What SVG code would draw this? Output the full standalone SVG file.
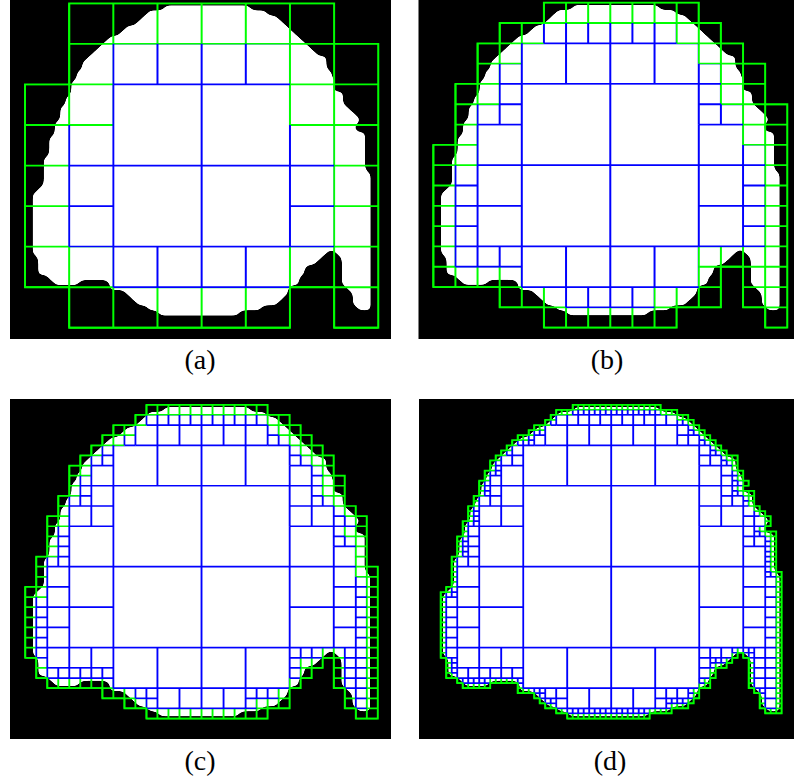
<svg xmlns="http://www.w3.org/2000/svg" xmlns:xlink="http://www.w3.org/1999/xlink" width="794" height="782" viewBox="0 0 794 782">
<style>
.bg{fill:#000}
.shape{fill:#fff;stroke:none}
.gl{fill:none;stroke:#00ff00}
.bl{fill:none;stroke:#0000ff}
.lbl{font-family:"Liberation Serif","Times New Roman",serif;font-size:28px;fill:#000;text-anchor:middle}
</style>
<defs>
<filter id="sm" x="-5%" y="-5%" width="110%" height="110%">
<feGaussianBlur stdDeviation="0.6"/>
<feComponentTransfer><feFuncA type="linear" slope="16" intercept="-11.5"/></feComponentTransfer>
</filter>
<path id="G1" d="M25 0H41V1H44V2H46V3H47V4H48V5H49V6H50V7H51V8H52V9H53V10H55V13H56V15H57V16H56V17H58V20H59V21H60V22H61V24H60V25H62V33H63V61H60V60H59V57H58V56H57V50H56V49H55V50H54V51H53V52H51V54H50V56H48V58H47V59H46V60H43V61H39V62H24V61H22V60H20V59H19V58H18V57H15V55H10V56H5V55H4V54H2V50H1V37H2V36H3V30H4V26H5V23H6V20H7V18H8V15H9V13H10V11H11V10H12V9H13V8H14V7H15V6H17V5H18V4H20V3H21V2H22V1H25Z"/>
<path id="R1" d="M25 1H41V2H44V3H46V4H47V5H48V6H49V7H50V8H51V9H52V10H53V11H54V13H55V15H56V16H55V17H56V18H57V20H58V21H59V22H60V24H59V25H60V26H61V33H62V60H60V57H59V56H58V50H57V49H56V48H55V49H54V50H53V51H51V52H50V54H49V55H48V56H47V58H46V59H43V60H39V61H24V60H22V59H20V58H19V57H18V56H16V55H15V54H10V55H5V54H4V53H3V50H2V37H3V36H4V30H5V26H6V23H7V20H8V18H9V15H10V13H11V11H12V10H13V9H14V8H15V7H17V6H18V5H20V4H21V3H22V2H25Z"/>
<path id="G2" d="M22 0H44V2H48V4H50V6H52V8H54V10H56V14H58V20H60V22H62V32H64V62H60V60H58V56H56V50H54V52H52V54H50V56H48V60H44V62H22V60H18V58H14V56H4V54H2V50H0V36H2V30H4V22H6V18H8V12H10V10H12V8H14V6H16V4H20V2H22Z"/>
<path id="R2" d="M22 2H44V4H46V6H48V8H50V10H52V12H54V18H56V20H58V22H60V24H58V26H60V34H62V60H60V56H58V48H54V50H50V54H48V56H46V58H42V60H22V58H20V56H16V54H4V50H2V38H4V30H6V24H8V18H10V14H12V10H14V8H18V6H20V4H22Z"/>
<path id="G4" d="M20 0H48V4H52V8H56V12H60V20H64V64H60V60H56V52H52V60H44V64H20V60H12V56H0V28H4V16H8V8H12V4H20Z"/>
<path id="R4" d="M20 4H44V8H48V12H52V20H56V28H60V48H48V56H40V60H24V56H16V52H4V32H8V20H12V12H16V8H20Z"/>
<path id="G8" d="M8 0H56V8H64V64H56V56H48V64H8V56H0V16H8Z"/>
<path id="R8" d="M16 8H48V24H56V48H48V56H16V48H8V24H16Z"/>
<path id="R16" d="M16 16H48V48H16Z"/>
<path id="v1" d="M0 0V64M1 0V64M2 0V64M3 0V64M4 0V64M5 0V64M6 0V64M7 0V64M8 0V64M9 0V64M10 0V64M11 0V64M12 0V64M13 0V64M14 0V64M15 0V64M16 0V64M17 0V64M18 0V64M19 0V64M20 0V64M21 0V64M22 0V64M23 0V64M24 0V64M25 0V64M26 0V64M27 0V64M28 0V64M29 0V64M30 0V64M31 0V64M32 0V64M33 0V64M34 0V64M35 0V64M36 0V64M37 0V64M38 0V64M39 0V64M40 0V64M41 0V64M42 0V64M43 0V64M44 0V64M45 0V64M46 0V64M47 0V64M48 0V64M49 0V64M50 0V64M51 0V64M52 0V64M53 0V64M54 0V64M55 0V64M56 0V64M57 0V64M58 0V64M59 0V64M60 0V64M61 0V64M62 0V64M63 0V64M64 0V64"/>
<path id="h1" d="M0 0H64M0 1H64M0 2H64M0 3H64M0 4H64M0 5H64M0 6H64M0 7H64M0 8H64M0 9H64M0 10H64M0 11H64M0 12H64M0 13H64M0 14H64M0 15H64M0 16H64M0 17H64M0 18H64M0 19H64M0 20H64M0 21H64M0 22H64M0 23H64M0 24H64M0 25H64M0 26H64M0 27H64M0 28H64M0 29H64M0 30H64M0 31H64M0 32H64M0 33H64M0 34H64M0 35H64M0 36H64M0 37H64M0 38H64M0 39H64M0 40H64M0 41H64M0 42H64M0 43H64M0 44H64M0 45H64M0 46H64M0 47H64M0 48H64M0 49H64M0 50H64M0 51H64M0 52H64M0 53H64M0 54H64M0 55H64M0 56H64M0 57H64M0 58H64M0 59H64M0 60H64M0 61H64M0 62H64M0 63H64M0 64H64"/>
<path id="v2" d="M0 0V64M2 0V64M4 0V64M6 0V64M8 0V64M10 0V64M12 0V64M14 0V64M16 0V64M18 0V64M20 0V64M22 0V64M24 0V64M26 0V64M28 0V64M30 0V64M32 0V64M34 0V64M36 0V64M38 0V64M40 0V64M42 0V64M44 0V64M46 0V64M48 0V64M50 0V64M52 0V64M54 0V64M56 0V64M58 0V64M60 0V64M62 0V64M64 0V64"/>
<path id="h2" d="M0 0H64M0 2H64M0 4H64M0 6H64M0 8H64M0 10H64M0 12H64M0 14H64M0 16H64M0 18H64M0 20H64M0 22H64M0 24H64M0 26H64M0 28H64M0 30H64M0 32H64M0 34H64M0 36H64M0 38H64M0 40H64M0 42H64M0 44H64M0 46H64M0 48H64M0 50H64M0 52H64M0 54H64M0 56H64M0 58H64M0 60H64M0 62H64M0 64H64"/>
<path id="v4" d="M0 0V64M4 0V64M8 0V64M12 0V64M16 0V64M20 0V64M24 0V64M28 0V64M32 0V64M36 0V64M40 0V64M44 0V64M48 0V64M52 0V64M56 0V64M60 0V64M64 0V64"/>
<path id="h4" d="M0 0H64M0 4H64M0 8H64M0 12H64M0 16H64M0 20H64M0 24H64M0 28H64M0 32H64M0 36H64M0 40H64M0 44H64M0 48H64M0 52H64M0 56H64M0 60H64M0 64H64"/>
<path id="v8" d="M0 0V64M8 0V64M16 0V64M24 0V64M32 0V64M40 0V64M48 0V64M56 0V64M64 0V64"/>
<path id="h8" d="M0 0H64M0 8H64M0 16H64M0 24H64M0 32H64M0 40H64M0 48H64M0 56H64M0 64H64"/>
<path id="v16" d="M0 0V64M16 0V64M32 0V64M48 0V64M64 0V64"/>
<path id="h16" d="M0 0H64M0 16H64M0 32H64M0 48H64M0 64H64"/>
<mask id="hG1"><g transform="translate(0,0.18)"><use href="#G1" fill="#fff"/><use href="#R1" fill="#000"/></g></mask>
<mask id="vG1"><g transform="translate(-0.18,0)"><use href="#G1" fill="#fff"/><use href="#R1" fill="#000"/></g></mask>
<mask id="hR1"><g transform="translate(0,0.18)"><use href="#R1" fill="#fff"/><use href="#R2" fill="#000"/></g></mask>
<mask id="vR1"><g transform="translate(-0.18,0)"><use href="#R1" fill="#fff"/><use href="#R2" fill="#000"/></g></mask>
<mask id="hG2"><g transform="translate(0,0.18)"><use href="#G2" fill="#fff"/><use href="#R2" fill="#000"/></g></mask>
<mask id="vG2"><g transform="translate(-0.18,0)"><use href="#G2" fill="#fff"/><use href="#R2" fill="#000"/></g></mask>
<mask id="hR2"><g transform="translate(0,0.18)"><use href="#R2" fill="#fff"/><use href="#R4" fill="#000"/></g></mask>
<mask id="vR2"><g transform="translate(-0.18,0)"><use href="#R2" fill="#fff"/><use href="#R4" fill="#000"/></g></mask>
<mask id="hG4"><g transform="translate(0,0.18)"><use href="#G4" fill="#fff"/><use href="#R4" fill="#000"/></g></mask>
<mask id="vG4"><g transform="translate(-0.18,0)"><use href="#G4" fill="#fff"/><use href="#R4" fill="#000"/></g></mask>
<mask id="hR4"><g transform="translate(0,0.18)"><use href="#R4" fill="#fff"/><use href="#R8" fill="#000"/></g></mask>
<mask id="vR4"><g transform="translate(-0.18,0)"><use href="#R4" fill="#fff"/><use href="#R8" fill="#000"/></g></mask>
<mask id="hG8"><g transform="translate(0,0.18)"><use href="#G8" fill="#fff"/><use href="#R8" fill="#000"/></g></mask>
<mask id="vG8"><g transform="translate(-0.18,0)"><use href="#G8" fill="#fff"/><use href="#R8" fill="#000"/></g></mask>
<mask id="hR8"><g transform="translate(0,0.18)"><use href="#R8" fill="#fff"/><use href="#R16" fill="#000"/></g></mask>
<mask id="vR8"><g transform="translate(-0.18,0)"><use href="#R8" fill="#fff"/><use href="#R16" fill="#000"/></g></mask>
<mask id="hR16"><g transform="translate(0,0.18)"><use href="#R16" fill="#fff"/></g></mask>
<mask id="vR16"><g transform="translate(-0.18,0)"><use href="#R16" fill="#fff"/></g></mask>
</defs>
<rect width="794" height="782" fill="#fff"/>

<g id="panel-a">
<rect class="bg" x="10" y="0" width="381" height="339"/>
<g transform="translate(25,3.3) scale(5.52,5.07)" stroke-width="0.36">
<use href="#G1" class="shape" filter="url(#sm)"/>
<use href="#h8" class="gl" mask="url(#hG8)"/><use href="#v8" class="gl" mask="url(#vG8)"/>
<use href="#h8" class="bl" mask="url(#hR8)"/><use href="#v8" class="bl" mask="url(#vR8)"/>
<use href="#h16" class="bl" mask="url(#hR16)"/><use href="#v16" class="bl" mask="url(#vR16)"/>
<use href="#G8" class="gl"/>
</g>
</g>

<g id="panel-b">
<rect class="bg" x="418.5" y="0" width="375.5" height="339"/>
<g transform="translate(433.3,2.7) scale(5.531,5.078)" stroke-width="0.36">
<use href="#G1" class="shape" filter="url(#sm)"/>
<use href="#h4" class="gl" mask="url(#hG4)"/><use href="#v4" class="gl" mask="url(#vG4)"/>
<use href="#h4" class="bl" mask="url(#hR4)"/><use href="#v4" class="bl" mask="url(#vR4)"/>
<use href="#h8" class="bl" mask="url(#hR8)"/><use href="#v8" class="bl" mask="url(#vR8)"/>
<use href="#h16" class="bl" mask="url(#hR16)"/><use href="#v16" class="bl" mask="url(#vR16)"/>
<use href="#G4" class="gl"/>
</g>
</g>

<g id="panel-c">
<rect class="bg" x="10" y="399" width="381" height="340"/>
<g transform="translate(25.2,404.8) scale(5.51,5.06)" stroke-width="0.34">
<use href="#G1" class="shape" filter="url(#sm)"/>
<use href="#h2" class="gl" mask="url(#hG2)"/><use href="#v2" class="gl" mask="url(#vG2)"/>
<use href="#h2" class="bl" mask="url(#hR2)"/><use href="#v2" class="bl" mask="url(#vR2)"/>
<use href="#h4" class="bl" mask="url(#hR4)"/><use href="#v4" class="bl" mask="url(#vR4)"/>
<use href="#h8" class="bl" mask="url(#hR8)"/><use href="#v8" class="bl" mask="url(#vR8)"/>
<use href="#h16" class="bl" mask="url(#hR16)"/><use href="#v16" class="bl" mask="url(#vR16)"/>
<use href="#G2" class="gl"/>
</g>
</g>

<g id="panel-d">
<rect class="bg" x="419" y="399" width="375" height="340"/>
<g transform="translate(435.2,404.8) scale(5.5,5.06)" stroke-width="0.34">
<use href="#G1" class="shape" filter="url(#sm)"/>
<use href="#h1" class="gl" mask="url(#hG1)"/><use href="#v1" class="gl" mask="url(#vG1)"/>
<use href="#h1" class="bl" mask="url(#hR1)"/><use href="#v1" class="bl" mask="url(#vR1)"/>
<use href="#h2" class="bl" mask="url(#hR2)"/><use href="#v2" class="bl" mask="url(#vR2)"/>
<use href="#h4" class="bl" mask="url(#hR4)"/><use href="#v4" class="bl" mask="url(#vR4)"/>
<use href="#h8" class="bl" mask="url(#hR8)"/><use href="#v8" class="bl" mask="url(#vR8)"/>
<use href="#h16" class="bl" mask="url(#hR16)"/><use href="#v16" class="bl" mask="url(#vR16)"/>
<use href="#G1" class="gl"/>
</g>
</g>

<g id="labels">
<text class="lbl" x="200" y="369">(a)</text>
<text class="lbl" x="607" y="369">(b)</text>
<text class="lbl" x="200" y="770">(c)</text>
<text class="lbl" x="610" y="770">(d)</text>
</g>
</svg>
